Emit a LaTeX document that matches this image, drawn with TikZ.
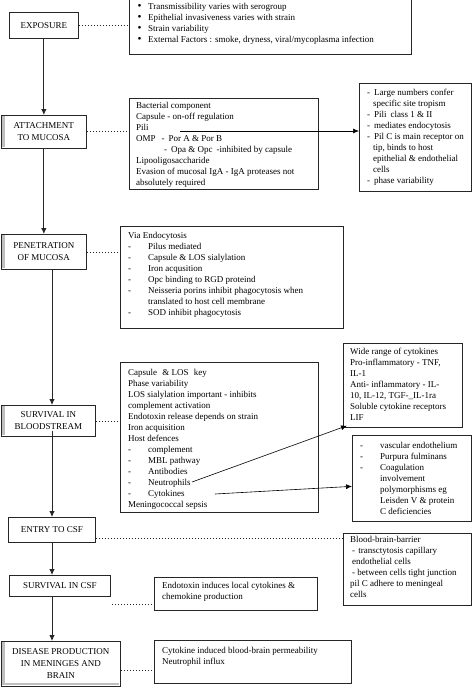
\documentclass[tikz,border=0pt]{standalone}
\usepackage{fontspec}
\setmainfont{Liberation Serif}
\usetikzlibrary{arrows.meta}
\tikzset{
  panel/.style={draw=black!85, line width=0.7pt, anchor=north west, inner sep=0pt},
  stage/.style={draw=black!85, line width=0.7pt, anchor=north west, inner sep=0pt, align=center,
                font=\fontsize{9}{12}\selectfont},
  txt/.style={anchor=north west, inner sep=0pt, align=left, font=\fontsize{9}{11}\selectfont},
  flow/.style={draw=black!85, line width=0.8pt, -{Latex[length=6pt,width=5.5pt]}},
  pointer/.style={draw=black, line width=0.6pt, -{Latex[length=6pt,width=5pt]}},
  dots/.style={draw=black!85, line width=0.8pt, dash pattern=on 1pt off 2pt},
  strip/.style={fill=black!25, draw=none}
}
\newcommand{\dl}[1]{\makebox[20pt][l]{-}#1}
\newcommand{\bl}[1]{\makebox[19pt][l]{\hspace*{8.5pt}\scalebox{1.25}{•}}#1}
\begin{document}
\begin{tikzpicture}[x=1pt,y=-1pt]
\useasboundingbox (0,0) rectangle (474,688);

% ---------- stages ----------
\node[stage, minimum width=69pt, minimum height=26pt] (exposure) at (9,12) {EXPOSURE};
\node[stage, minimum width=85pt, minimum height=33pt] (attach) at (1,115) {ATTACHMENT\\TO MUCOSA};
\fill[strip] (1.6,115.6) rectangle (4.5,147.4);
\node[stage, minimum width=85pt, minimum height=35pt] (penet) at (1,234) {PENETRATION\\OF MUCOSA};
\fill[strip] (1.6,234.6) rectangle (4.5,268.4);
\node[stage, minimum width=94pt, minimum height=31pt] (surv) at (1,405) {SURVIVAL IN\\BLOODSTREAM};
\fill[strip] (1.6,405.6) rectangle (4.5,435.4);
\node[stage, minimum width=87pt, minimum height=25pt] (entry) at (8,517) {ENTRY TO CSF};
\node[stage, minimum width=101pt, minimum height=21pt] (survcsf) at (9,575) {SURVIVAL IN CSF};
\node[stage, minimum width=119pt, minimum height=45pt] (disease) at (1,641) {DISEASE PRODUCTION\\IN MENINGES AND\\BRAIN};
\fill[strip] (1.6,641.6) rectangle (4.5,685.4);
\fill[strip] (1.6,683) rectangle (119.4,685.4);

% ---------- detail boxes ----------
\node[panel, minimum width=282pt, minimum height=58pt] (factors) at (129,-4) {};
\node[txt] (factorsT) at (129,2.6) {\bl{Transmissibility varies with serogroup}\\
\bl{Epithelial invasiveness varies with strain}\\
\bl{Strain variability}\\
\bl{External Factors : smoke, dryness, viral/mycoplasma infection}};

\node[panel, minimum width=189pt, minimum height=91pt] (bact) at (129,98) {};
\node[txt] (bactT) at (136,102) {Bacterial component\\
Capsule - on-off regulation\\
Pili\\
OMP\hspace*{6pt}-\hspace*{4pt}Por A \& Por B\\
\hspace*{28pt}-\hspace*{4pt}Opa \& Opc\hspace*{4pt}-inhibited by capsule\\
Lipooligosaccharide\\
Evasion of mucosal IgA - IgA proteases not\\
absolutely required};

\node[panel, minimum width=112pt, minimum height=108pt] (pili) at (359,83) {};
\node[txt] (piliT) at (367,89) {\makebox[7pt][l]{-}Large numbers confer\\
\hspace*{6pt}specific site tropism\\
\makebox[7pt][l]{-}Pili\hspace*{4pt}class 1 \& II\\
\makebox[7pt][l]{-}mediates endocytosis\\
\makebox[7pt][l]{-}Pil C is main receptor on\\
\hspace*{6pt}tip, binds to host\\
\hspace*{6pt}epithelial \& endothelial\\
\hspace*{6pt}cells\\
\makebox[7pt][l]{-}phase variability};

\node[panel, minimum width=223pt, minimum height=102pt] (endo) at (120,226) {};
\node[txt] (endoT) at (128,232) {Via Endocytosis\\
\dl{Pilus mediated}\\
\dl{Capsule \& LOS sialylation}\\
\dl{Iron acqusition}\\
\dl{Opc binding to RGD proteind}\\
\dl{Neisseria porins inhibit phagocytosis when}\\
\hspace*{20pt}translated to host cell membrane\\
\dl{SOD inhibit phagocytosis}};

\node[panel, minimum width=198pt, minimum height=150pt] (blood) at (120,362) {};
\node[txt] (bloodT) at (128,369) {Capsule\hspace*{3pt} \& LOS\hspace*{3pt} key\\
Phase variability\\
LOS sialylation important - inhibits\\
complement activation\\
Endotoxin release depends on strain\\
Iron acquisition\\
Host defences\\
\dl{complement}\\
\dl{MBL pathway}\\
\dl{Antibodies}\\
\dl{Neutrophils}\\
\dl{Cytokines}\\
Meningococcal sepsis};

\node[panel, minimum width=119pt, minimum height=84pt] (cyto) at (343,343) {};
\node[txt] (cytoT) at (350,348) {Wide range of cytokines\\
Pro-inflammatory - TNF,\\
IL-1\\
Anti- inflammatory - IL-\\
10, IL-12, TGF-\_IL-1ra\\
Soluble cytokine receptors\\
LIF};

\node[panel, minimum width=119pt, minimum height=86pt] (vasc) at (352,435) {};
\node[txt] (vascT) at (360,442) {\dl{vascular endothelium}\\
\dl{Purpura fulminans}\\
\dl{Coagulation}\\
\hspace*{20pt}involvement\\
\hspace*{20pt}polymorphisms eg\\
\hspace*{20pt}Leisden V \& protein\\
\hspace*{20pt}C deficiencies};

\node[panel, minimum width=128pt, minimum height=72pt] (bbb) at (343,533) {};
\node[txt] (bbbT) at (350,536) {Blood-brain-barrier\\
\hspace*{2pt}- \hspace*{1pt}transctytosis capillary\\
\hspace*{2pt}endothelial cells\\
\hspace*{2pt}- between cells tight junction\\
pil C adhere to meningeal\\
cells};

\node[panel, minimum width=163pt, minimum height=33pt] (csfbox) at (154,577) {};
\node[txt] (csfT) at (162,582) {Endotoxin induces local cytokines \&\\
chemokine production};

\node[panel, minimum width=197pt, minimum height=43pt] (brain) at (154,640) {};
\node[txt] (brainT) at (162,647) {Cytokine induced blood-brain permeability\\
Neutrophil influx};

% ---------- main flow ----------
\coordinate (colB) at (52,0);
\draw[flow] (exposure.south) -- (attach.north);
\draw[flow] (attach.south) -- (penet.north);
\draw[flow] (penet.south -| colB) -- (surv.north -| colB);
\draw[flow] ([yshift=6pt]surv.south -| colB) -- (entry.north -| colB);
\draw[flow] (entry.south -| colB) -- (survcsf.north -| colB);
\draw[flow] (survcsf.south -| colB) -- (disease.north -| colB);

% ---------- dotted links ----------
\draw[dots] (exposure.east) -- (exposure.east -| factors.west);
\draw[dots] (attach.east) -- (attach.east -| bact.west);
\draw[dots] ([yshift=-1pt]penet.east) -- ([yshift=-1pt]penet.east -| endo.west);
\draw[dots] ([yshift=-0.5pt]surv.east) -- ([yshift=-0.5pt]surv.east -| blood.west);
\draw[dots] ([yshift=-9pt]entry.east) -- ([yshift=-9pt]entry.east -| bbb.west);
\coordinate (csfdot) at (112,604);
\draw[dots] (csfdot) -- (csfdot -| csfbox.west);
\coordinate (braindot) at (121,670);
\draw[dots] (braindot) -- (braindot -| brain.west);

% ---------- pointers ----------
\coordinate (piliS) at (180,131);
\draw[pointer] (piliS) -- (piliS -| pili.west);
\coordinate (neuS) at (192,482);
\draw[pointer] (neuS) -- ([xshift=4pt,yshift=2pt]cyto.south west);
\coordinate (cytS) at (215,494);
\draw[pointer] (cytS) -- ([yshift=-8pt]vasc.west);
\end{tikzpicture}
\end{document}
